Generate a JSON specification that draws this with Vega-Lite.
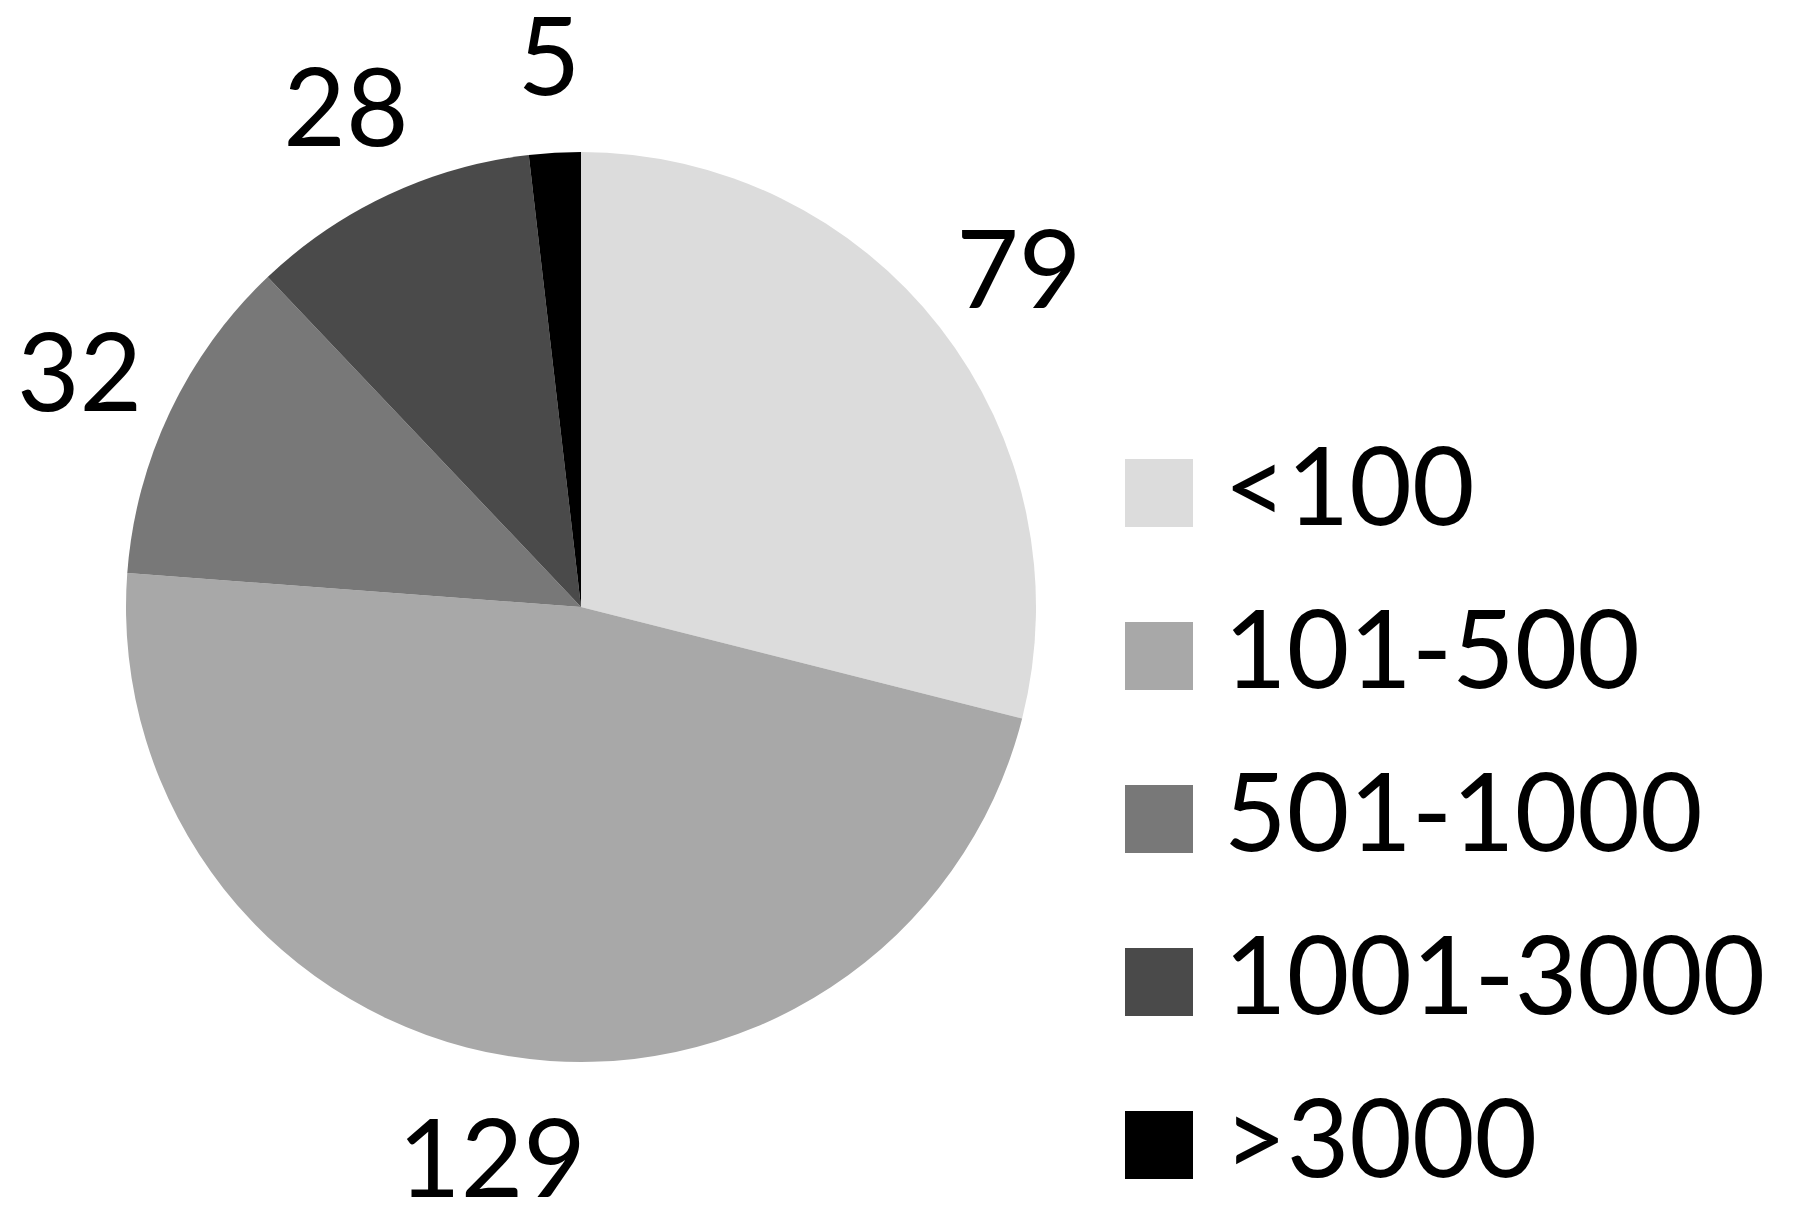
{
  "$schema": "https://vega.github.io/schema/vega-lite/v6.json",
  "width": 1162,
  "height": 1214,
  "autosize": {"type": "none"},
  "padding": {"left": 0, "top": 0, "right": 638, "bottom": 6},
  "background": "white",
  "config": {"view": {"stroke": null}, "font": "Lato"},
  "data": {
    "values": [
      {"range": "<100", "count": 79, "rank": 1},
      {"range": "101-500", "count": 129, "rank": 2},
      {"range": "501-1000", "count": 32, "rank": 3},
      {"range": "1001-3000", "count": 28, "rank": 4},
      {"range": ">3000", "count": 5, "rank": 5}
    ]
  },
  "encoding": {
    "theta": {"field": "count", "type": "quantitative", "stack": true},
    "order": {"field": "rank", "type": "quantitative"}
  },
  "layer": [
    {
      "mark": {"type": "arc", "outerRadius": 455},
      "encoding": {
        "color": {
          "field": "range",
          "type": "nominal",
          "sort": ["<100", "101-500", "501-1000", "1001-3000", ">3000"],
          "scale": {
            "domain": ["<100", "101-500", "501-1000", "1001-3000", ">3000"],
            "range": ["#dcdcdc", "#a8a8a8", "#787878", "#4a4a4a", "#000000"]
          },
          "legend": {
            "title": null,
            "orient": "none",
            "legendX": 1105,
            "legendY": 439,
            "symbolType": "square",
            "symbolSize": 4624,
            "symbolStrokeWidth": 0,
            "labelFontSize": 108,
            "labelFont": "Lato",
            "labelColor": "black",
            "labelOffset": 11,
            "rowPadding": 55,
            "padding": 0,
            "labelLimit": 800
          }
        }
      }
    },
    {
      "mark": {
        "type": "text",
        "radius": 555,
        "dy": 10,
        "fontSize": 108,
        "font": "Lato",
        "color": "black",
        "align": "center",
        "baseline": "middle"
      },
      "encoding": {
        "text": {"field": "count", "type": "quantitative"}
      }
    }
  ]
}
